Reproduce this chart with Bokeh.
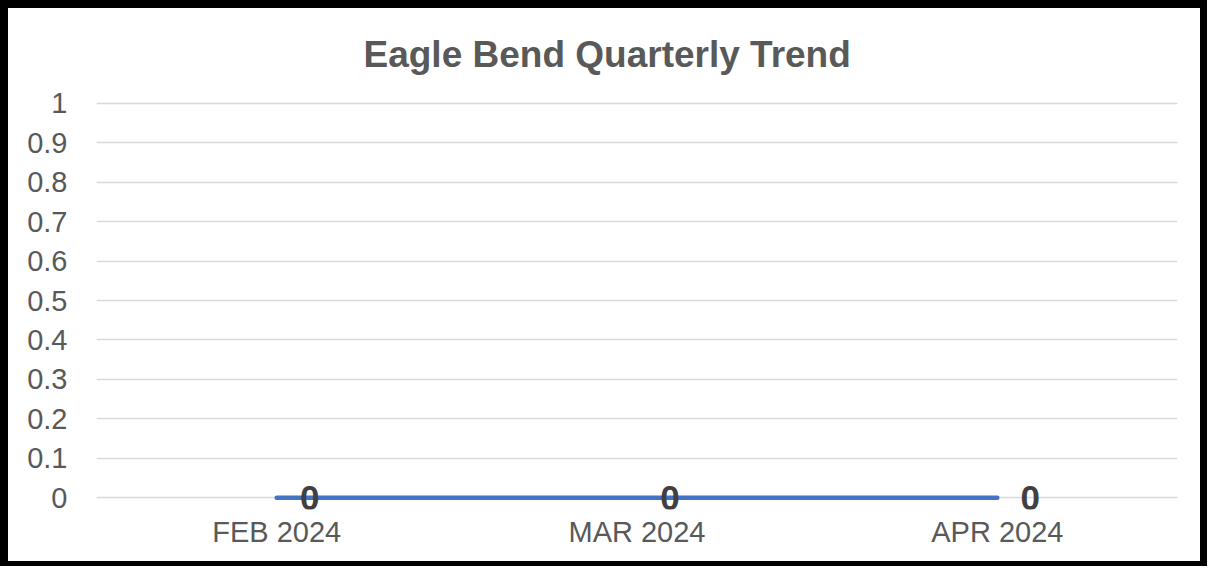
from bokeh.plotting import figure
from bokeh.models import FactorRange, Range1d, FixedTicker, ColumnDataSource
from bokeh.core.properties import value
from bokeh.embed import file_html
from bokeh.resources import INLINE

title_text = "Eagle Bend Quarterly Trend"
months = ["FEB 2024", "MAR 2024", "APR 2024"]
counts = [0, 0, 0]
y_ticks = [0, 0.1, 0.2, 0.3, 0.4, 0.5, 0.6, 0.7, 0.8, 0.9, 1]
y_tick_labels = ["0", "0.1", "0.2", "0.3", "0.4", "0.5", "0.6", "0.7", "0.8", "0.9", "1"]

FONT = "Liberation Sans"
W, H = 1207, 566

p = figure(
    width=W, height=H,
    x_range=FactorRange(factors=months, range_padding=0),
    y_range=Range1d(-0.03, 1.005),
    output_backend="svg", toolbar_location=None,
    min_border_left=88, min_border_right=38, min_border_top=93, min_border_bottom=65,
)
p.styles = {
    "border-style": "solid",
    "border-color": "black",
    "border-width": "8px 7px 5px 8px",
}
p.outline_line_color = None
p.background_fill_color = "white"
p.border_fill_color = "white"

p.title.text = title_text
p.title.align = "left"
p.title.vertical_align = "top"
p.title.offset = 267
p.title.text_font = FONT
p.title.text_font_size = "37px"
p.title.text_font_style = "bold"
p.title.text_color = "#595959"
p.title.standoff = 50

p.yaxis.ticker = FixedTicker(ticks=y_ticks)
p.yaxis.major_label_overrides = {t: l for t, l in zip(y_ticks, y_tick_labels)}
p.yaxis.axis_line_color = None
p.yaxis.major_tick_line_color = None
p.yaxis.minor_tick_line_color = None
p.yaxis.major_label_text_font = FONT
p.yaxis.major_label_text_font_size = "29px"
p.yaxis.major_label_text_color = "#595959"
p.yaxis.major_label_standoff = 23

p.xaxis.axis_line_color = None
p.xaxis.major_tick_line_color = None
p.xaxis.minor_tick_line_color = None
p.xaxis.major_label_text_font = FONT
p.xaxis.major_label_text_font_size = "29px"
p.xaxis.major_label_text_color = "#595959"
p.xaxis.major_label_standoff = 0

p.xgrid.grid_line_color = None
p.ygrid.grid_line_color = "#d9d9d9"
p.ygrid.grid_line_width = 1.5

src = ColumnDataSource(dict(x=months, y=counts, lab=[str(c) for c in counts]))
p.line("x", "y", source=src, line_color="#4472C4", line_width=4.5, line_cap="round")
p.text("x", "y", text="lab", source=src, x_offset=33, text_align="center",
       text_baseline="middle", text_font=value(FONT), text_font_size="35px",
       text_font_style="bold", text_color="#404040")

open("out.html", "w").write(file_html(p, INLINE))
